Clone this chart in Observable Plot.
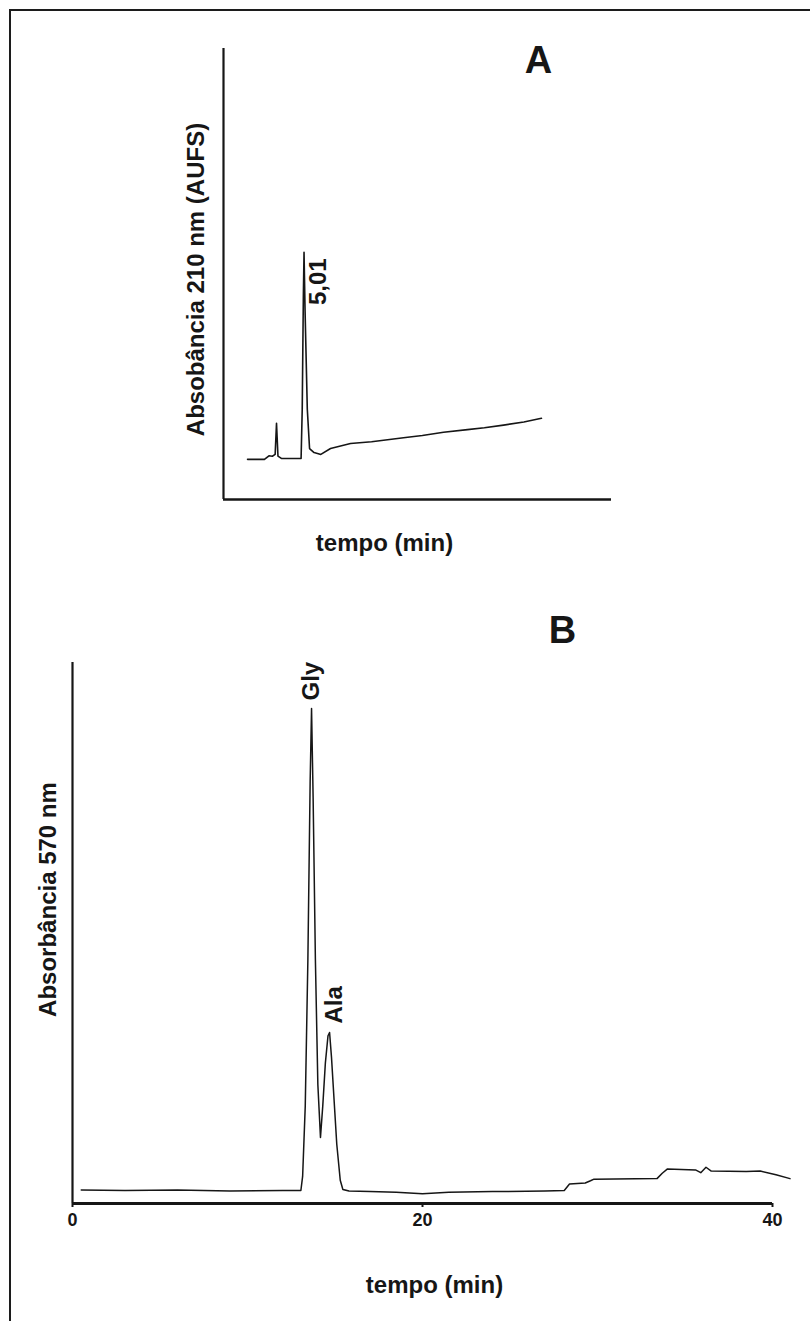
<!DOCTYPE html>
<html>
<head>
<meta charset="utf-8">
<script src="https://cdn.jsdelivr.net/npm/d3@7"></script>
<script src="https://cdn.jsdelivr.net/npm/@observablehq/plot@0.6"></script>
<style>
  html, body { margin: 0; padding: 0; background: #fff; }
  #page { position: relative; width: 810px; height: 1321px; overflow: hidden; background: #fff; }
  #border { position: absolute; left: 9px; top: 9px; right: -10px; bottom: -10px;
            border-left: 2px solid #1c1c1c; border-top: 2px solid #1c1c1c; }
  #page svg { position: absolute; left: 0; }
</style>
</head>
<body>
<div id="page"><div id="border"></div></div>
<script>
// ---------- Panel A data (arbitrary time scale; main peak at 5,01 min) ----------
const aTime = [0, 1.5, 1.9, 2.2, 2.45, 2.57, 2.7, 3.0, 4.0, 4.75, 4.85, 4.95, 5.01, 5.1, 5.3, 5.5, 5.9, 6.5, 7.36, 9.13, 11.0, 13.83, 15.5, 17.38, 19.5, 21.0, 22.7, 24.5, 26.06];
const aAbs  = [0.089, 0.089, 0.097, 0.096, 0.100, 0.169, 0.096, 0.091, 0.091, 0.091, 0.20, 0.45, 0.548, 0.42, 0.20, 0.113, 0.104, 0.100, 0.113, 0.124, 0.128, 0.137, 0.142, 0.149, 0.155, 0.159, 0.165, 0.172, 0.180];
const aDomainX = [-2.13, 32.27];
const aPeakLabel = {t: 5.01, v: 0.548, label: "5,01"};

// ---------- Panel B data ----------
const bTime = [0.5, 3, 6, 9, 12, 13.05, 13.15, 13.3, 13.45, 13.58, 13.66, 13.75, 13.88, 14.02, 14.17, 14.3, 14.45, 14.6, 14.69, 14.8, 14.95, 15.1, 15.3, 15.45, 15.8, 17, 18.5, 20, 21.5, 24, 27, 28.1, 28.4, 29.3, 29.6, 29.8, 33.4, 33.7, 34.0, 35.6, 35.9, 36.2, 36.5, 38.5, 39.3, 40.2, 41.0];
const bAbs  = [2.5, 2.4, 2.5, 2.3, 2.4, 2.4, 5, 18, 45, 78, 91.5, 75, 45, 22, 12.2, 18, 26, 31, 31.6, 27, 19, 11, 4.3, 2.6, 2.3, 2.2, 2.1, 1.8, 2.1, 2.2, 2.3, 2.4, 3.6, 3.8, 4.2, 4.5, 4.6, 5.6, 6.4, 6.2, 5.7, 6.7, 6.0, 5.9, 6.0, 5.3, 4.6];
const bTicks = [0, 20, 40];
const glyLabel = {t: 13.66, v: 91.5, label: "Gly"};
const alaLabel = {t: 14.69, v: 31.6, label: "Ala"};

const INK = "#161616";
const FONT = "'Liberation Sans', Arial, Helvetica, sans-serif";

const aData = aTime.map((t, i) => ({t, v: aAbs[i]}));
const bData = bTime.map((t, i) => ({t, v: bAbs[i]}));

const plotA = Plot.plot({
  width: 810, height: 600,
  marginLeft: 223, marginRight: 199, marginTop: 48, marginBottom: 101,
  x: {domain: aDomainX, axis: null},
  y: {domain: [0, 1], axis: null},
  style: {fontFamily: FONT, background: "transparent", overflow: "visible", color: INK},
  marks: [
    Plot.ruleX([aDomainX[0]], {stroke: INK, strokeWidth: 2.2}),
    Plot.ruleY([0], {stroke: INK, strokeWidth: 2.6}),
    Plot.line(aData, {x: "t", y: "v", stroke: INK, strokeWidth: 1.6}),
    Plot.text([aPeakLabel], {x: "t", y: "v", text: "label", rotate: -90, textAnchor: "end", lineAnchor: "bottom",
      dx: 22, dy: 6, fontSize: 24, fontWeight: "bold", fill: INK}),
    Plot.text(["A"], {frameAnchor: "top-left", dx: 315, dy: 24, textAnchor: "middle", lineAnchor: "bottom",
      fontSize: 38, fontWeight: "bold", fill: INK}),
    Plot.text(["Absobância 210 nm (AUFS)"], {frameAnchor: "left", rotate: -90, dx: -27, dy: 5.5,
      textAnchor: "middle", lineAnchor: "middle", fontSize: 24, fontWeight: "bold", fill: INK}),
    Plot.text(["tempo (min)"], {frameAnchor: "bottom", dx: -33, dy: 51, textAnchor: "middle", lineAnchor: "bottom",
      fontSize: 24, fontWeight: "bold", fill: INK})
  ]
});
plotA.style.top = "0px";

const plotB = Plot.plot({
  width: 810, height: 721,
  marginLeft: 72, marginRight: 38, marginTop: 62, marginBottom: 118,
  x: {domain: [0, 40]},
  y: {domain: [0, 100], axis: null},
  style: {fontFamily: FONT, background: "transparent", overflow: "visible", color: INK},
  marks: [
    Plot.ruleX([0], {stroke: INK, strokeWidth: 2.2}),
    Plot.ruleY([0], {stroke: INK, strokeWidth: 2.8}),
    Plot.axisX({ticks: bTicks, tickSize: 4, tickPadding: 6, fontSize: 18, fontWeight: "bold",
      label: null, stroke: INK, strokeWidth: 2, fill: INK}),
    Plot.line(bData, {x: "t", y: "v", stroke: INK, strokeWidth: 1.5}),
    Plot.text([glyLabel], {x: "t", y: "v", text: "label", rotate: -90, textAnchor: "start", lineAnchor: "bottom",
      dx: 7, dy: -8, fontSize: 24, fontWeight: "bold", fill: INK}),
    Plot.text([alaLabel], {x: "t", y: "v", text: "label", rotate: -90, textAnchor: "start", lineAnchor: "bottom",
      dx: 12, dy: -9, fontSize: 24, fontWeight: "bold", fill: INK}),
    Plot.text(["B"], {frameAnchor: "top-left", dx: 490, dy: -20, textAnchor: "middle", lineAnchor: "bottom",
      fontSize: 38, fontWeight: "bold", fill: INK}),
    Plot.text(["Absorbância 570 nm"], {frameAnchor: "left", rotate: -90, dx: -24, dy: -33.5,
      textAnchor: "middle", lineAnchor: "middle", fontSize: 24, fontWeight: "bold", fill: INK}),
    Plot.text(["tempo (min)"], {frameAnchor: "bottom", dx: 12, dy: 89, textAnchor: "middle", lineAnchor: "bottom",
      fontSize: 24, fontWeight: "bold", fill: INK})
  ]
});
plotB.style.top = "600px";

const page = document.getElementById("page");
page.appendChild(plotA);
page.appendChild(plotB);
</script>
</body>
</html>
